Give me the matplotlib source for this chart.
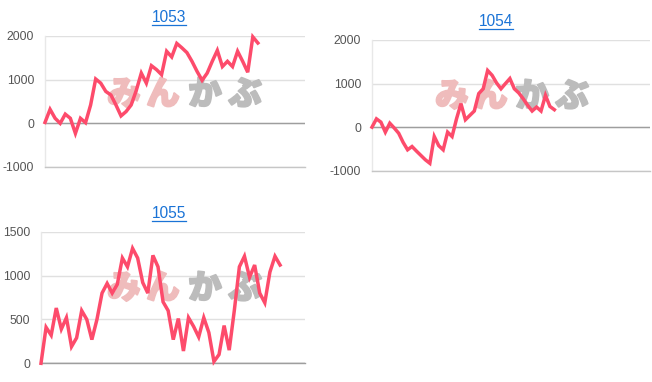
import matplotlib
matplotlib.use('Agg')
import matplotlib.pyplot as plt
from matplotlib.lines import Line2D
import matplotlib.patheffects as pe

titles = ['1053', '1054', '1055']

values_1053 = [20, 320, 115, 0, 210, 115, -230, 115, 15, 420, 1015, 920, 730, 650,
               420, 170, 270, 420, 750, 1150, 920, 1320, 1230, 1115, 1650, 1520,
               1830, 1730, 1620, 1420, 1190, 985, 1150, 1420, 1670, 1300, 1420,
               1300, 1650, 1420, 1170, 1980, 1840]
values_1054 = [0, 190, 115, -115, 90, -20, -140, -350, -520, -445, -550, -650,
               -750, -830, -215, -425, -520, -115, -215, 190, 540, 170, 270, 370,
               770, 880, 1300, 1190, 1015, 880, 1000, 1115, 880, 785, 650, 500,
               370, 460, 370, 730, 475, 400]
values_1055 = [0, 410, 320, 630, 390, 520, 190, 290, 600, 500, 270, 500, 800, 910,
               800, 900, 1200, 1100, 1310, 1200, 920, 800, 1230, 1100, 700, 600,
               270, 510, 140, 520, 420, 300, 520, 350, 20, 100, 430, 150, 600, 1100,
               1220, 980, 1120, 800, 690, 1040, 1220, 1120]

yticks_1053 = [-1000, 0, 1000, 2000]
yticks_1054 = [-1000, 0, 1000, 2000]
yticks_1055 = [0, 500, 1000, 1500]

logo_pink = ['み', 'ん']
logo_gray = ['か', 'ぶ']

W, H = 652, 382
fig = plt.figure(figsize=(W / 100, H / 100), dpi=100)

LINE = '#fd4b6b'
LINK = '#1a73d6'
GRID = '#e0e0e0'
BASE = '#9e9e9e'
TICK = '#555555'

panels = [
    dict(vals=values_1053, ticks=yticks_1053, box=(45, 36, 305, 167), xmax=51.3,
         title=titles[0], tx=169, ty=17, ul=(152, 186, 24.5), logo_x=[124, 163, 205, 245], logo_y=94),
    dict(vals=values_1054, ticks=yticks_1054, box=(372, 40, 650, 170.7), xmax=62.5,
         title=titles[1], tx=496, ty=21, ul=(479, 513, 28.5), logo_x=[452, 491, 532, 572], logo_y=96),
    dict(vals=values_1055, ticks=yticks_1055, box=(41, 231.7, 305, 363.3), xmax=51.9,
         title=titles[2], tx=169, ty=214, ul=(152, 186, 221.5), logo_x=[124, 163, 205, 245], logo_y=288),
]

for p in panels:
    l, t, r, b = p['box']
    ax = fig.add_axes([l / W, 1 - b / H, (r - l) / W, (b - t) / H])
    ax.set_facecolor('none')
    vals = p['vals']
    ax.plot(range(len(vals)), vals, color=LINE, lw=2.5, solid_joinstyle='miter',
            zorder=4, clip_on=False)
    ax.set_xlim(0, p['xmax'])
    ax.set_ylim(p['ticks'][0], p['ticks'][-1])
    ax.set_yticks(p['ticks'])
    ax.set_yticklabels([str(v) for v in p['ticks']])
    ax.set_xticks([])
    ax.yaxis.grid(True, color=GRID, lw=1.0, zorder=0)
    ax.set_axisbelow(True)
    ax.axhline(0, color=BASE, lw=1.0, zorder=2)
    for s in ['top', 'right']:
        ax.spines[s].set_visible(False)
    ax.spines['left'].set_color('#e8e8e8')
    ax.spines['left'].set_linewidth(1.0)
    ax.spines['bottom'].set_color('#c6c6c6' if p['ticks'][0] != 0 else BASE)
    ax.spines['bottom'].set_linewidth(1.0)
    ax.tick_params(axis='y', length=0, pad=7.8, labelsize=8.8, labelcolor=TICK)
    for lab in ax.get_yticklabels():
        lab.set_fontfamily('Liberation Sans')

    # watermark logo
    for i, ch in enumerate(logo_pink + logo_gray):
        col = '#efbcbc' if i < 2 else '#bcbcbc'
        ax.text(p['logo_x'][i] / W, 1 - p['logo_y'] / H, ch, transform=fig.transFigure,
                ha='center', va='center', fontsize=24, fontweight='heavy', color=col,
                family=['Noto Sans CJK JP', 'DejaVu Sans'], zorder=1,
                path_effects=[pe.withStroke(linewidth=1.4, foreground=col)])

    # title with underline
    fig.text(p['tx'] / W, 1 - p['ty'] / H, p['title'], ha='center', va='center',
             fontsize=11.2, color=LINK, family='Liberation Sans')
    x0, x1, yu = p['ul']
    fig.add_artist(Line2D([x0 / W, x1 / W], [1 - yu / H, 1 - yu / H],
                          transform=fig.transFigure, color=LINK, lw=0.9))

fig.savefig('out.png', dpi=100)
